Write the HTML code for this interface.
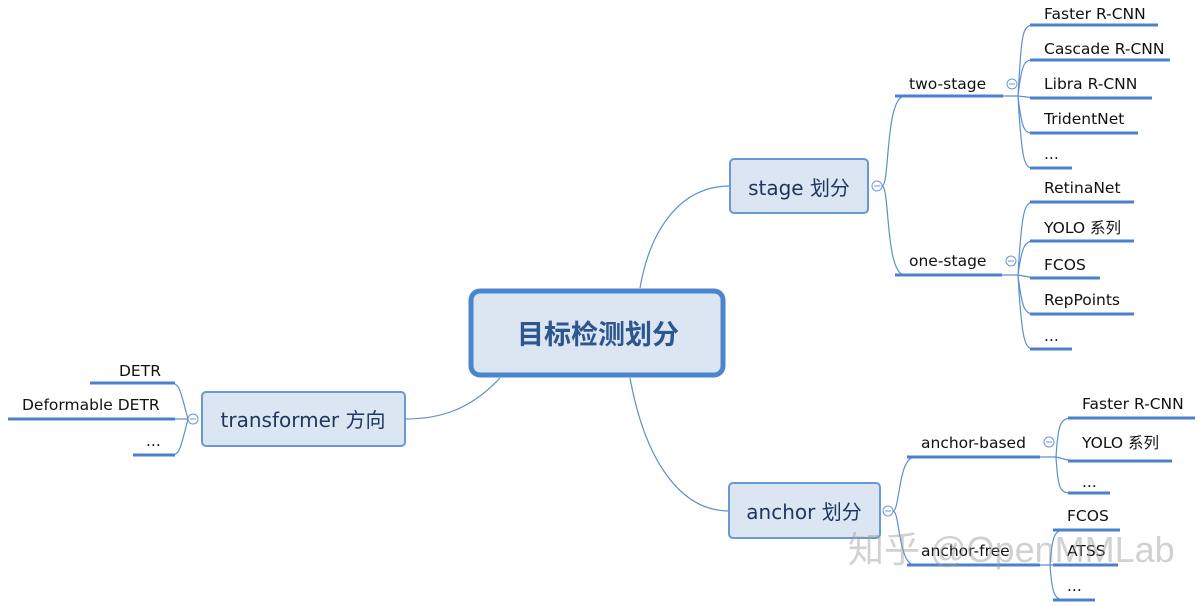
<!DOCTYPE html>
<html><head><meta charset="utf-8"><style>
html,body{margin:0;padding:0;background:#fff;}
svg{display:block;font-family:"DejaVu Sans","Noto Sans CJK SC",sans-serif;}
.t{font-size:15.5px;fill:#111;}
.b{font-size:20px;fill:#1f3660;}
.u{stroke:#4a80cc;stroke-width:3;}
.c{fill:none;stroke:#5a8fd0;stroke-width:1.2;}
.k{fill:#fff;stroke:#6a98d4;stroke-width:1;}
</style></head><body>
<svg width="1203" height="606" viewBox="0 0 1203 606">
<path class="c" d="M640,288 C650,230 680,186 730,186"/>
<path class="c" d="M500,378 C470,410 440,419 405,419"/>
<path class="c" d="M630,378 C645,460 680,511 729,511"/>

<rect x="471" y="291" width="252" height="84" rx="9" fill="#dce6f2" stroke="#4a86d0" stroke-width="5"/>
<text x="598" y="344" text-anchor="middle" font-size="27" font-weight="bold" fill="#2d5590" font-family="'Noto Sans CJK SC',sans-serif">目标检测划分</text>

<rect x="730" y="159" width="138" height="54" rx="4" fill="#dce6f2" stroke="#6a98d4" stroke-width="2"/>
<text class="b" x="799" y="195" text-anchor="middle">stage 划分</text>
<path class="c" d="M882,186 C890,186 885,96 905,96 M882,186 C890,186 885,275 905,275"/>
<circle class="k" cx="877" cy="186" r="5"/><line x1="874" y1="186" x2="880" y2="186" stroke="#6a98d4"/>

<line class="u" x1="895" y1="96" x2="1003" y2="96"/><text class="t" x="909" y="89">two-stage</text>
<circle class="k" cx="1012" cy="84" r="5"/><line x1="1009" y1="84" x2="1015" y2="84" stroke="#6a98d4"/>
<path class="c" d="M1003,96 L1018,96 M1018,96 C1022,30 1022,25 1035,25 M1018,96 C1022,60 1025,60 1035,60 M1018,96 L1035,98 M1018,96 C1022,133 1025,133 1035,133 M1018,96 C1022,168 1025,168 1035,168"/>
<line class="u" x1="1030" y1="25" x2="1158" y2="25"/><text class="t" x="1044" y="19">Faster R-CNN</text>
<line class="u" x1="1030" y1="60" x2="1170" y2="60"/><text class="t" x="1044" y="54">Cascade R-CNN</text>
<line class="u" x1="1030" y1="98" x2="1152" y2="98"/><text class="t" x="1044" y="89">Libra R-CNN</text>
<line class="u" x1="1030" y1="133" x2="1138" y2="133"/><text class="t" x="1044" y="124">TridentNet</text>
<line class="u" x1="1030" y1="168" x2="1072" y2="168"/><text class="t" x="1044" y="159">...</text>

<line class="u" x1="895" y1="275" x2="1002" y2="275"/><text class="t" x="909" y="266">one-stage</text>
<circle class="k" cx="1011" cy="261" r="5"/><line x1="1008" y1="261" x2="1014" y2="261" stroke="#6a98d4"/>
<path class="c" d="M1002,275 L1018,275 M1018,275 C1022,205 1025,202 1035,202 M1018,275 C1022,245 1025,241 1035,241 M1018,275 L1035,278 M1018,275 C1022,310 1025,314 1035,314 M1018,275 C1022,345 1025,349 1035,349"/>
<line class="u" x1="1030" y1="202" x2="1134" y2="202"/><text class="t" x="1044" y="193">RetinaNet</text>
<line class="u" x1="1030" y1="241" x2="1134" y2="241"/><text class="t" x="1044" y="233">YOLO 系列</text>
<line class="u" x1="1030" y1="278" x2="1100" y2="278"/><text class="t" x="1044" y="270">FCOS</text>
<line class="u" x1="1030" y1="314" x2="1134" y2="314"/><text class="t" x="1044" y="305">RepPoints</text>
<line class="u" x1="1030" y1="349" x2="1072" y2="349"/><text class="t" x="1044" y="341">...</text>

<rect x="202" y="392" width="203" height="54" rx="4" fill="#dce6f2" stroke="#6a98d4" stroke-width="2"/>
<text class="b" x="303" y="427" text-anchor="middle">transformer 方向</text>
<circle class="k" cx="193" cy="419" r="5"/><line x1="190" y1="419" x2="196" y2="419" stroke="#6a98d4"/>
<path class="c" d="M188,419 L175,419 M188,419 C180,390 180,383 170,383 M188,419 C180,450 180,455 170,455"/>
<line class="u" x1="90" y1="383" x2="175" y2="383"/><text class="t" x="119" y="376">DETR</text>
<line class="u" x1="8" y1="419" x2="175" y2="419"/><text class="t" x="22" y="410">Deformable DETR</text>
<line class="u" x1="133" y1="455" x2="175" y2="455"/><text class="t" x="146" y="446">...</text>

<rect x="729" y="483" width="151" height="55" rx="4" fill="#dce6f2" stroke="#6a98d4" stroke-width="2"/>
<text class="b" x="804" y="519" text-anchor="middle">anchor 划分</text>
<circle class="k" cx="888" cy="511" r="5"/><line x1="885" y1="511" x2="891" y2="511" stroke="#6a98d4"/>
<path class="c" d="M893,511 C900,511 898,457 915,457 M893,511 C900,511 898,565 915,565"/>
<line class="u" x1="907" y1="457" x2="1040" y2="457"/><text class="t" x="921" y="448">anchor-based</text>
<circle class="k" cx="1049" cy="442" r="5"/><line x1="1046" y1="442" x2="1052" y2="442" stroke="#6a98d4"/>
<path class="c" d="M1040,457 L1056,457 M1056,457 C1058,425 1060,418 1072,418 M1056,457 L1072,461 M1056,457 C1058,490 1060,493 1072,493"/>
<line class="u" x1="1068" y1="418" x2="1195" y2="418"/><text class="t" x="1082" y="409">Faster R-CNN</text>
<line class="u" x1="1068" y1="461" x2="1172" y2="461"/><text class="t" x="1082" y="448">YOLO 系列</text>
<line class="u" x1="1068" y1="493" x2="1110" y2="493"/><text class="t" x="1082" y="487">...</text>

<line class="u" x1="907" y1="565" x2="1040" y2="565"/><text class="t" x="921" y="556">anchor-free</text>
<path class="c" d="M1040,565 L1050,565 M1050,565 C1052,535 1055,530 1065,530 M1050,565 L1065,565 M1050,565 C1052,595 1055,600 1065,600"/>
<line class="u" x1="1053" y1="530" x2="1120" y2="530"/><text class="t" x="1067" y="521">FCOS</text>
<line class="u" x1="1053" y1="565" x2="1118" y2="565"/><text class="t" x="1067" y="556">ATSS</text>
<line class="u" x1="1053" y1="600" x2="1095" y2="600"/><text class="t" x="1067" y="591">...</text>

<text x="848" y="562" font-size="36" fill="#999" fill-opacity="0.45" font-family="'Liberation Sans','Noto Sans CJK SC',sans-serif">知乎 @OpenMMLab</text>
</svg>
</body></html>
